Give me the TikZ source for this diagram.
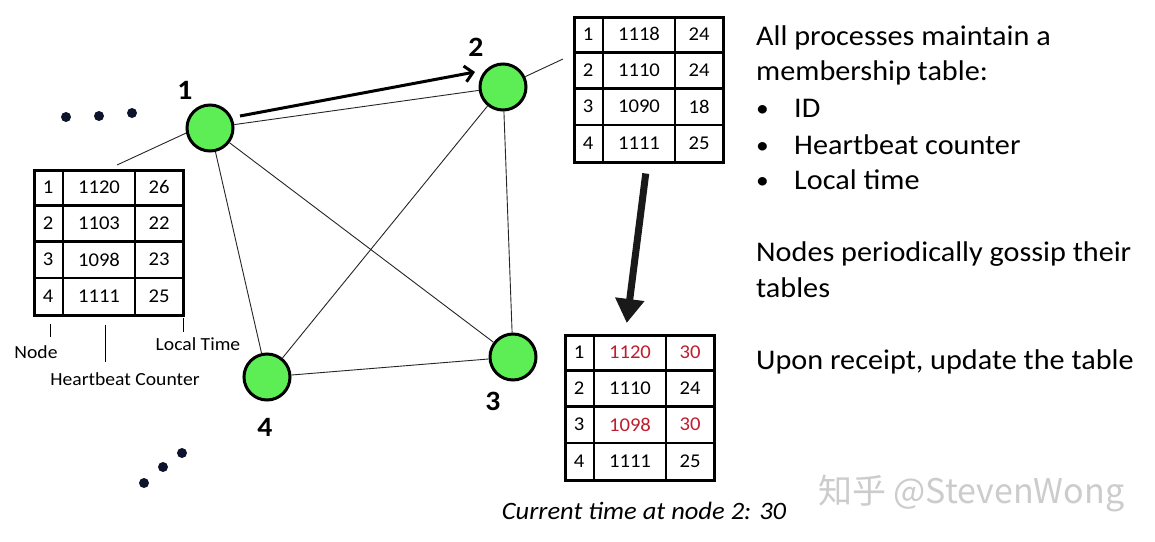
\documentclass[tikz,border=0pt]{standalone}
\usepackage{fontspec}
\setmainfont{Carlito}[FakeStretch=1.06]
\newfontfamily\cjkfont{Noto Sans CJK SC}
\usetikzlibrary{arrows.meta,calc}
\definecolor{nodegreen}{RGB}{92,238,84}
\definecolor{tred}{RGB}{190,30,45}
\definecolor{dotblue}{RGB}{15,20,45}
\tikzset{
 proc/.style={circle,draw=black,line width=3pt,fill=nodegreen,minimum size=46pt,inner sep=0pt},
 plabel/.style={font=\fontsize{28}{30}\selectfont\bfseries,inner sep=0pt},
 link/.style={line width=0.9pt,black!85},
 tblbox/.style={draw,line width=2.5pt,minimum width=149pt,minimum height=145pt,inner sep=0pt},
 tblline/.style={line width=2.5pt},
 cell/.style={font=\fontsize{19.5}{22}\selectfont,inner sep=0pt},
 lbl/.style={font=\fontsize{18.5}{20}\selectfont,inner sep=0pt,anchor=base},
 txt/.style={font=\fontsize{28.5}{32}\selectfont,inner sep=0pt,anchor=base west},
 bul/.style={font=\fontsize{24}{28}\selectfont,inner sep=0pt,anchor=base west},
 dot/.style={circle,fill=dotblue,minimum size=10pt,inner sep=0pt},
 gossip/.style={line width=3pt,-{Straight Barb[length=8pt,width=16pt]}},
 bigarrow/.style={line width=7pt,black!90,-{Triangle[length=24pt,width=28pt]}},
}
\newcommand{\mtbl}[4]{%
 \node[tblbox,anchor=north west] (#1) at (#2,#3) {};
 \draw[tblline] ($(#1.north west)+(30,0)$) -- ($(#1.south west)+(30,0)$);
 \draw[tblline] ($(#1.north west)+(102,0)$) -- ($(#1.south west)+(102,0)$);
 \foreach \r in {1,2,3} \draw[tblline] ($(#1.north west)+(0,36.25*\r)$) -- ($(#1.north east)+(0,36.25*\r)$);
 \foreach \a/\b/\c/\cb [count=\i] in {#4} {
   \node[cell] (#1-\i-a) at ($(#1.north west)+(15,36.25*\i-18.1)$) {\a};
   \node[cell,text=\cb] (#1-\i-b) at ($(#1.north west)+(66,36.25*\i-18.1)$) {\b};
   \node[cell,text=\cb] (#1-\i-c) at ($(#1.north west)+(126,36.25*\i-18.1)$) {\c};
 }}
\begin{document}
\begin{tikzpicture}[x=1pt,y=-1pt]
\fill[white] (0,0) rectangle (1155,541);
\useasboundingbox (0,0) rectangle (1155,541);
% process nodes
\node[proc] (n1) at (210,128) {};
\node[proc] (n2) at (503,87) {};
\node[proc] (n3) at (513,357) {};
\node[proc] (n4) at (267,377) {};
% links
\draw[link] (n1) -- (n2);
\draw[link] (n1) -- (n3);
\draw[link] (n1) -- (n4);
\draw[link] (n2) -- (n3);
\draw[link] (n2) -- (n4);
\draw[link] (n4) -- (n3);
% labels
\node[plabel] (lab1) at (185,90) {1};
\node[plabel] (lab2) at (476,47) {2};
\node[plabel] (lab3) at (493,401) {3};
\node[plabel] (lab4) at (265,427) {4};
% gossip arrow
\draw[gossip] ($(n1)+(30,-12)$) -- ($(n2)+(-28,-15)$);
% tables
\mtbl{t1}{33}{169}{1/1120/26/black,2/1103/22/black,3/1098/23/black,4/1111/25/black}
\mtbl{t2}{573}{16}{1/1118/24/black,2/1110/24/black,3/1090/18/black,4/1111/25/black}
\mtbl{t3}{564}{334}{1/1120/30/tred,2/1110/24/black,3/1098/30/tred,4/1111/25/black}
% leader lines
\coordinate (l1) at (117,165);
\coordinate (l2) at (563,59);
\draw[link] (l1) -- (n1.192);
\draw[link] (n2) -- (l2);
% big arrow
\draw[bigarrow] ($(t2.south)+(-3,10)$) -- ($(t3.north)+(-13,-11)$);
% column captions
\coordinate (k1a) at (50,324); \coordinate (k1b) at (50,337);
\coordinate (k2a) at (105,325); \coordinate (k2b) at (105,362);
\coordinate (k3a) at (183,318); \coordinate (k3b) at (183,332);
\draw[line width=1pt] (k1a) -- (k1b);
\draw[line width=1pt] (k2a) -- (k2b);
\draw[line width=1pt] (k3a) -- (k3b);
\node[lbl] (capnode) at (36,358) {Node};
\node[lbl] (caphb) at (125,385) {Heartbeat Counter};
\node[lbl] (caplt) at (198,350) {Local Time};
% dots
\node[dot] (d1) at (66,117) {};
\node[dot] (d2) at (99,116) {};
\node[dot] (d3) at (132,113) {};
\node[dot] (d4) at (144,483) {};
\node[dot] (d5) at (163,467) {};
\node[dot] (d6) at (182,453) {};
% right text
\node[txt] (r1) at (756,45) {All processes maintain a};
\node[txt] (r2) at (756,80) {membership table:};
\node[bul] (b1) at (756,116) {•};
\node[txt] (r3) at (794,117) {ID};
\node[bul] (b2) at (756,153) {•};
\node[txt] (r4) at (794,154) {Heartbeat counter};
\node[bul] (b3) at (756,188) {•};
\node[txt] (r5) at (794,189) {Local time};
\node[txt] (r6) at (756,261) {Nodes periodically gossip their};
\node[txt] (r7) at (756,297) {tables};
\node[txt] (r8) at (756,369) {Upon receipt, update the table};
% caption
\node[font=\fontsize{25}{28}\selectfont\itshape,inner sep=0pt,anchor=base] (cur) at (644,519) {Current time at node 2: 30};
% watermark
\node[font=\cjkfont\fontsize{34}{38}\selectfont,text=gray!40,inner sep=0pt,anchor=base west] (wm) at (818,503) {知乎 @StevenWong};
\end{tikzpicture}
\end{document}
